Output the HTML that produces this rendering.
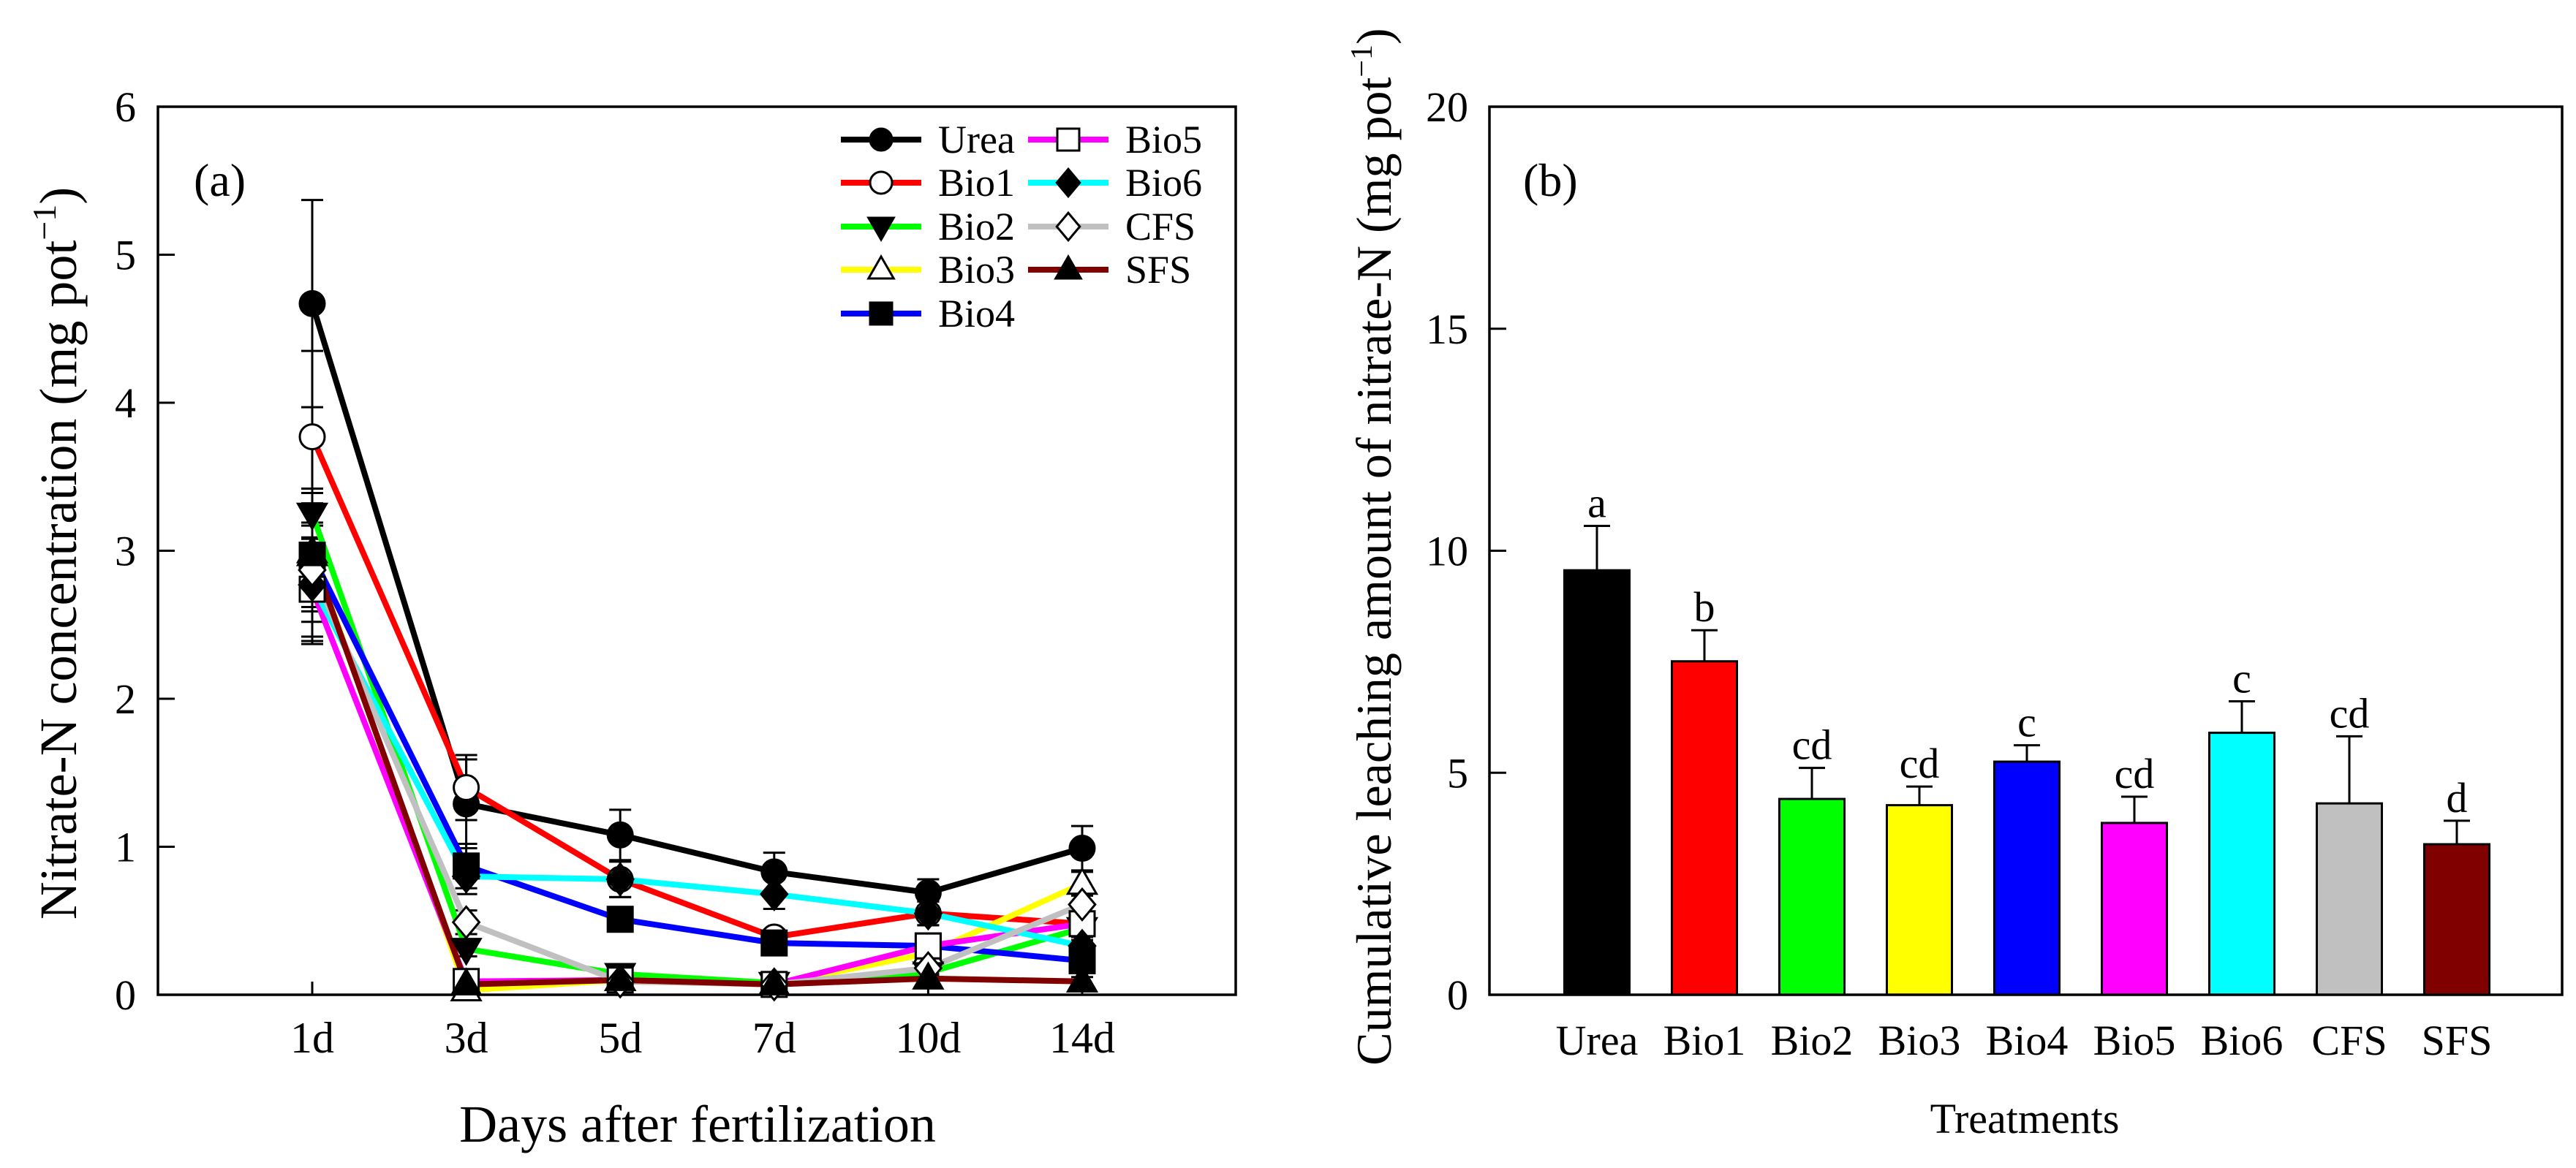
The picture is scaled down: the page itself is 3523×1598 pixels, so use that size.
<!DOCTYPE html>
<html><head><meta charset="utf-8">
<style>
html,body{margin:0;padding:0;background:#fff;}
svg{display:block;font-family:"Liberation Serif","Times New Roman",serif;}
</style></head>
<body>
<svg id="chart" width="3523" height="1598" viewBox="0 0 3523 1598" xmlns="http://www.w3.org/2000/svg">
<g id="panelA"></g>
<g id="panelB"></g>
</svg>
<script>
// ---------- Panel (a) data ----------
const days = ["1d","3d","5d","7d","10d","14d"];
const seriesNames = ["Urea","Bio1","Bio2","Bio3","Bio4","Bio5","Bio6","CFS","SFS"];
const seriesColors = ["#000000","#ff0000","#00ff00","#ffff00","#0000ff","#ff00ff","#00ffff","#c0c0c0","#800000"];
const seriesMarkers = ["circle-f","circle-o","tridown-f","triup-o","square-f","square-o","diamond-f","diamond-o","triup-f"];
const ureaVals = [4.67,1.29,1.08,0.83,0.69,0.99];
const bio1Vals = [3.77,1.40,0.78,0.39,0.55,0.48];
const bio2Vals = [3.25,0.31,0.14,0.08,0.15,0.45];
const bio3Vals = [2.99,0.03,0.10,0.07,0.28,0.75];
const bio4Vals = [2.97,0.87,0.51,0.35,0.33,0.23];
const bio5Vals = [2.74,0.09,0.10,0.07,0.33,0.48];
const bio6Vals = [2.77,0.80,0.78,0.68,0.55,0.33];
const cfsVals  = [2.87,0.49,0.09,0.07,0.18,0.61];
const sfsVals  = [2.97,0.07,0.10,0.07,0.11,0.09];
const ureaErr = [0.70,0.30,0.17,0.13,0.09,0.15];
const bio1Err = [0.58,0.22,0.12,0.05,0.08,0.05];
const bio2Err = [0.17,0.05,0.04,0.02,0.04,0.08];
const bio3Err = [0.40,0.02,0.03,0.02,0.05,0.08];
const bio4Err = [0.45,0.15,0.06,0.04,0.04,0.05];
const bio5Err = [0.35,0.03,0.03,0.02,0.05,0.06];
const bio6Err = [0.40,0.12,0.12,0.10,0.08,0.06];
const cfsErr  = [0.45,0.08,0.03,0.02,0.05,0.07];
const sfsErr  = [0.35,0.03,0.03,0.02,0.03,0.03];
const yTicksA = [0,1,2,3,4,5,6];
// ---------- Panel (b) data ----------
const treatments = ["Urea","Bio1","Bio2","Bio3","Bio4","Bio5","Bio6","CFS","SFS"];
const barVals = [9.56,7.51,4.41,4.27,5.25,3.87,5.90,4.31,3.39];
const barErr  = [1.00,0.70,0.70,0.42,0.37,0.59,0.71,1.51,0.53];
const barLetters = ["a","b","cd","cd","c","cd","c","cd","d"];
const yTicksB = [0,5,10,15,20];

const NS="http://www.w3.org/2000/svg";
function mk(tag, attrs, parent, text){
  const e=document.createElementNS(NS,tag);
  for(const k in attrs) e.setAttribute(k,attrs[k]);
  if(text!==undefined) e.textContent=text;
  parent.appendChild(e); return e;
}
const gA=document.getElementById('panelA');
const gB=document.getElementById('panelB');

// ---------- Panel (a) ----------
const A={l:216,r:1690,t:146,b:1361};
const xA=i=>427+i*210.6;
const yA=v=>A.b-(v/6)*(A.b-A.t);
const allVals=[ureaVals,bio1Vals,bio2Vals,bio3Vals,bio4Vals,bio5Vals,bio6Vals,cfsVals,sfsVals];
const allErr=[ureaErr,bio1Err,bio2Err,bio3Err,bio4Err,bio5Err,bio6Err,cfsErr,sfsErr];

const frameA=mk('rect',{x:A.l,y:A.t,width:A.r-A.l,height:A.b-A.t,fill:'none',stroke:'#000','stroke-width':3.5},gA);


yTicksA.forEach(v=>{
  const t=mk('line',{x1:A.l,x2:A.l+23,y1:yA(v),y2:yA(v),stroke:'#000','stroke-width':3},gA);
  
  
  const lb=mk('text',{x:186,y:yA(v)+20,'text-anchor':'end','font-size':58},gA,String(v));
  
  
});
days.forEach((d,i)=>{
  const t=mk('line',{x1:xA(i),x2:xA(i),y1:A.b,y2:A.b-18,stroke:'#000','stroke-width':3},gA);
  
  
  const lb=mk('text',{x:xA(i),y:1440,'text-anchor':'middle','font-size':60},gA,d);
  
  
});
const xtA=mk('text',{x:954,y:1562,'text-anchor':'middle','font-size':72},gA,'Days after fertilization');


const ytA=mk('text',{transform:'translate(104,757) rotate(-90)','text-anchor':'middle','font-size':72},gA);


ytA.innerHTML='Nitrate-N concentration (mg pot<tspan dy="-28" font-size="46">−1</tspan><tspan dy="28">)</tspan>';
const laA=mk('text',{x:265,y:268,'font-size':64},gA,'(a)');



function marker(type,cx,cy,color,parent,s){
  s=s||17;
  const filled=type.endsWith('-f');
  const fill=filled?'#000':'#fff';
  const st={fill:fill,stroke:'#000','stroke-width':3};
  let e;
  if(type.startsWith('circle')) e=mk('circle',Object.assign({cx:cx,cy:cy,r:s},st),parent);
  else if(type.startsWith('square')) e=mk('rect',Object.assign({x:cx-s,y:cy-s,width:2*s,height:2*s},st),parent);
  else if(type.startsWith('diamond')) e=mk('polygon',Object.assign({points:`${cx},${cy-s*1.25} ${cx+s*1.05},${cy} ${cx},${cy+s*1.25} ${cx-s*1.05},${cy}`},st),parent);
  else if(type.startsWith('triup')) e=mk('polygon',Object.assign({points:`${cx},${cy-s*1.2} ${cx+s*1.15},${cy+s*0.8} ${cx-s*1.15},${cy+s*0.8}`},st),parent);
  else e=mk('polygon',Object.assign({points:`${cx},${cy+s*1.2} ${cx+s*1.15},${cy-s*0.8} ${cx-s*1.15},${cy-s*0.8}`},st),parent);
  return e;
}

// error bars
allVals.forEach((vals,si)=>{
  vals.forEach((v,i)=>{
    const e=allErr[si][i];
    const x=xA(i);
    const g=mk('g',{stroke:'#000','stroke-width':3},gA);
    
    
    mk('line',{x1:x,x2:x,y1:yA(v+e),y2:yA(Math.max(0,v-e))},g);
    mk('line',{x1:x-15,x2:x+15,y1:yA(v+e),y2:yA(v+e)},g);
    if(v-e>0) mk('line',{x1:x-15,x2:x+15,y1:yA(v-e),y2:yA(v-e)},g);
  });
});
// lines
allVals.forEach((vals,si)=>{
  const pts=vals.map((v,i)=>xA(i)+','+yA(v)).join(' ');
  const pl=mk('polyline',{points:pts,fill:'none',stroke:seriesColors[si],'stroke-width':8,'stroke-linejoin':'round'},gA);
  
  
});
// markers
allVals.forEach((vals,si)=>{
  vals.forEach((v,i)=>{
    const m=marker(seriesMarkers[si],xA(i),yA(v),seriesColors[si],gA);
    
    
  });
});
// legend
const legRowsY=[191,250,310,369,429];
seriesNames.forEach((n,si)=>{
  const col=si<5?0:1, row=si<5?si:si-5;
  const x0=col===0?1150:1406, y=legRowsY[row];
  const g=mk('g',{},gA);
  
  
  mk('line',{x1:x0,x2:x0+110,y1:y,y2:y,stroke:seriesColors[si],'stroke-width':8},g);
  marker(seriesMarkers[si],x0+55,y,seriesColors[si],g,15);
  mk('text',{x:x0+133,y:y+18,'font-size':54},g,n);
});

// ---------- Panel (b) ----------
const B={l:2037,r:3504,t:146,b:1361};
const xB=i=>2184+i*147;
const yB=v=>B.b-(v/20)*(B.b-B.t);
const bw=89;
barVals.forEach((v,i)=>{
  const r=mk('rect',{x:xB(i)-bw/2,y:yB(v),width:bw,height:B.b-yB(v),fill:seriesColors[i],stroke:'#000','stroke-width':3},gB);
  
  
  const g=mk('g',{stroke:'#000','stroke-width':3},gB);
  
  
  mk('line',{x1:xB(i),x2:xB(i),y1:yB(v),y2:yB(v+barErr[i])},g);
  mk('line',{x1:xB(i)-18,x2:xB(i)+18,y1:yB(v+barErr[i]),y2:yB(v+barErr[i])},g);
  const lt=mk('text',{x:xB(i),y:yB(v+barErr[i])-12,'text-anchor':'middle','font-size':58},gB,barLetters[i]);
  
  
  const lb=mk('text',{x:xB(i),y:1443,'text-anchor':'middle','font-size':58},gB,treatments[i]);
  
  
});
const frameB=mk('rect',{x:B.l,y:B.t,width:B.r-B.l,height:B.b-B.t,fill:'none',stroke:'#000','stroke-width':3.5},gB);


yTicksB.forEach(v=>{
  const t=mk('line',{x1:B.l,x2:B.l+23,y1:yB(v),y2:yB(v),stroke:'#000','stroke-width':3},gB);
  
  
  const lb=mk('text',{x:2008,y:yB(v)+20,'text-anchor':'end','font-size':58},gB,String(v));
  
  
});
const xtB=mk('text',{x:2769,y:1550,'text-anchor':'middle','font-size':58},gB,'Treatments');


const ytB=mk('text',{transform:'translate(1902,748) rotate(-90)','text-anchor':'middle','font-size':68},gB);


ytB.innerHTML='Cumulative leaching amount of nitrate-N (mg pot<tspan dy="-26" font-size="42">−1</tspan><tspan dy="26">)</tspan>';
const laB=mk('text',{x:2083,y:268,'font-size':64},gB,'(b)');


</script>
</body></html>
